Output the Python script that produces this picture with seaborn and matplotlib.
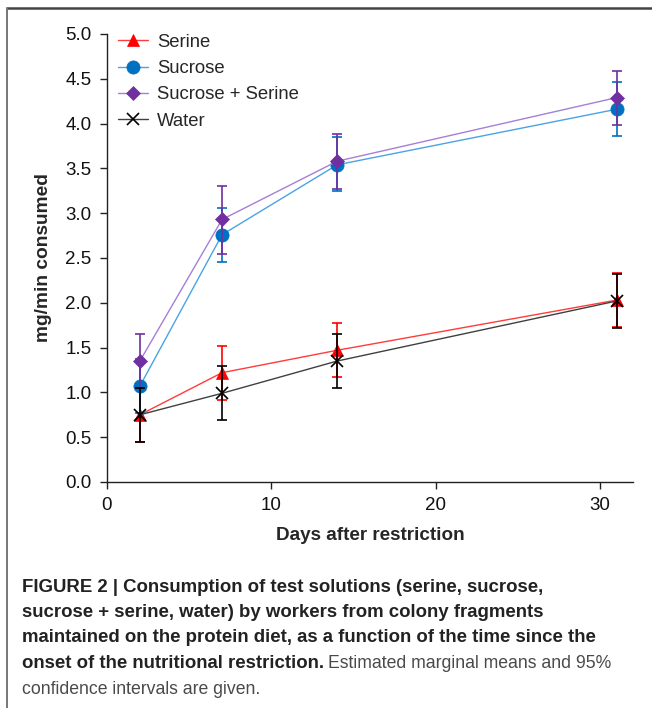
import matplotlib
matplotlib.use("Agg")
import matplotlib.pyplot as plt
import seaborn as sns
import numpy as np
from matplotlib.lines import Line2D

days = [2, 7, 14, 31]
series_names = ["Serine", "Sucrose", "Sucrose + Serine", "Water"]
serine = [0.75, 1.22, 1.47, 2.03]
serine_lo = [0.45, 0.92, 1.17, 1.73]
serine_hi = [1.05, 1.52, 1.77, 2.33]
sucrose = [1.07, 2.76, 3.54, 4.16]
sucrose_lo = [0.77, 2.46, 3.25, 3.86]
sucrose_hi = [1.37, 3.06, 3.85, 4.46]
sucser = [1.35, 2.93, 3.58, 4.29]
sucser_lo = [1.05, 2.55, 3.27, 3.98]
sucser_hi = [1.65, 3.30, 3.88, 4.59]
water = [0.75, 0.99, 1.35, 2.02]
water_lo = [0.45, 0.69, 1.05, 1.72]
water_hi = [1.05, 1.29, 1.65, 2.32]

xticks = [0, 10, 20, 30]
yticks = [0.0, 0.5, 1.0, 1.5, 2.0, 2.5, 3.0, 3.5, 4.0, 4.5, 5.0]

sns.set_theme(style="white")
plt.rcParams['font.family'] = ['Liberation Sans', 'DejaVu Sans']

fig = plt.figure(figsize=(6.52, 7.08), dpi=100)
ax = fig.add_axes([107/652, 1-482/708, (633-107)/652, (482-34)/708])

styles = [
    (serine, serine_lo, serine_hi, "#ff3b3b", "#ff0000", "^", 9),
    (sucrose, sucrose_lo, sucrose_hi, "#4aa3e6", "#0070c0", "o", 9.5),
    (sucser, sucser_lo, sucser_hi, "#a67fd6", "#7030a0", "D", 7),
    (water, water_lo, water_hi, "#404040", "#000000", "x", 9),
]

handles = []
for i, (vals, lo, hi, lc, mc, mk, ms) in enumerate(styles):
    vals = np.array(vals); lo = np.array(lo); hi = np.array(hi)
    ax.errorbar(days, vals, yerr=[vals - lo, hi - vals], fmt="none",
                ecolor=mc, elinewidth=1.2, capsize=3.6, capthick=1.2, zorder=2 + i)
    sns.lineplot(x=days, y=vals, ax=ax, color=lc, linewidth=1.0, zorder=2 + i,
                 marker=mk, markersize=ms, markerfacecolor=mc,
                 markeredgecolor=mc, markeredgewidth=1.2 if mk == "x" else 0.5)
    handles.append(Line2D([0], [0], color=lc, linewidth=1.0, marker=mk,
                          markersize=ms, markerfacecolor=mc, markeredgecolor=mc,
                          markeredgewidth=1.2 if mk == "x" else 0.5))

ax.set_xlim(0, 32)
ax.set_ylim(0, 5)
ax.set_xticks(xticks)
ax.set_yticks(yticks)
ax.set_yticklabels([f"{v:.1f}" for v in yticks])
ax.tick_params(axis="both", which="both", direction="out", length=5, width=1,
               color="#222222", labelsize=13.5, labelcolor="#111111", pad=6,
               bottom=True, left=True)
for s in ["top", "right"]:
    ax.spines[s].set_visible(False)
for s in ["left", "bottom"]:
    ax.spines[s].set_color("#222222")
    ax.spines[s].set_linewidth(1.0)

ax.set_xlabel("Days after restriction", fontsize=13.6, fontweight="bold", labelpad=9)
ax.set_ylabel("mg/min consumed", fontsize=13.8, fontweight="bold", labelpad=10)

leg = ax.legend(handles, series_names, loc="upper left", bbox_to_anchor=(0.0, 1.025),
                frameon=False, fontsize=13.3, handlelength=1.6, handletextpad=0.5,
                labelspacing=0.5, borderaxespad=0.2)

# frame lines of the figure panel
fig.add_artist(Line2D([7/652, 1], [1-8/708, 1-8/708], color="#444444", linewidth=1.8,
                      transform=fig.transFigure))
fig.add_artist(Line2D([7/652, 7/652], [0, 1-8/708], color="#777777", linewidth=1.4,
                      transform=fig.transFigure))

caption_bold = [
    "FIGURE 2 | Consumption of test solutions (serine, sucrose,",
    "sucrose + serine, water) by workers from colony fragments",
    "maintained on the protein diet, as a function of the time since the",
]
fs = 13.4
fs_reg = 12.7
y0 = 1 - 587/708
dy = 25.5/708
for k, line in enumerate(caption_bold):
    fig.text(22/652, y0 - k*dy, line, fontsize=fs, fontweight="bold",
             color="#222222", va="center", ha="left")
t = fig.text(22/652, y0 - 3*dy, "onset of the nutritional restriction.", fontsize=fs,
             fontweight="bold", color="#222222", va="center", ha="left")
fig.canvas.draw()
bb = t.get_window_extent()
fig.text((bb.x1 + 4)/652, y0 - 3*dy, "Estimated marginal means and 95%", fontsize=fs_reg,
         color="#4a4a4a", va="center", ha="left")
fig.text(22/652, y0 - 4*dy, "confidence intervals are given.", fontsize=fs_reg,
         color="#4a4a4a", va="center", ha="left")

fig.savefig("out.png", dpi=100)
